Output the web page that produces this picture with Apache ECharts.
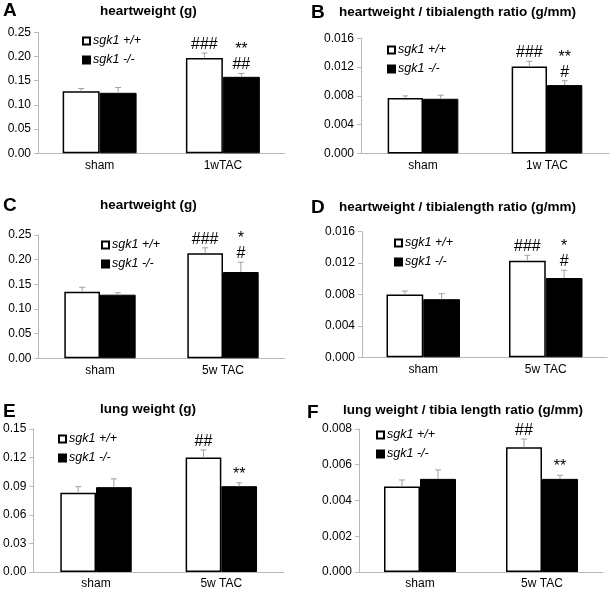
<!DOCTYPE html>
<html><head><meta charset="utf-8">
<script src="https://cdn.jsdelivr.net/npm/echarts@6/dist/echarts.min.js"></script>
<style>html,body{margin:0;padding:0;background:#fff}#c{width:610px;height:590px}</style>
</head><body><div id="c"></div>
<script>
// ---- data ----
const seriesNames = ['sgk1 +/+', 'sgk1 -/-'];
const catsA = ['sham', '1wTAC'];
const catsB = ['sham', '1w TAC'];
const catsC = ['sham', '5w TAC'];
const catsD = ['sham', '5w TAC'];
const catsE = ['sham', '5w TAC'];
const catsF = ['sham', '5w TAC'];

const wtA = [0.128, 0.197];   const wtErrA = [0.006, 0.010];
const koA = [0.125, 0.158];   const koErrA = [0.011, 0.007];
const wtAnnA = ['', '###'];   const koAnnA = ['', '**\n##'];

const wtB = [0.0077, 0.0121]; const wtErrB = [0.0003, 0.0007];
const koB = [0.0076, 0.0095]; const koErrB = [0.0005, 0.0006];
const wtAnnB = ['', '###'];   const koAnnB = ['', '**\n#'];

const wtC = [0.135, 0.213];   const wtErrC = [0.009, 0.011];
const koC = [0.129, 0.175];   const koErrC = [0.004, 0.020];
const wtAnnC = ['', '###'];   const koAnnC = ['', '*\n#'];

const wtD = [0.0080, 0.0123]; const wtErrD = [0.00045, 0.0007];
const koD = [0.0074, 0.0101]; const koErrD = [0.0007, 0.0010];
const wtAnnD = ['', '###'];   const koAnnD = ['', '*\n#'];

const wtE = [0.083, 0.120];   const wtErrE = [0.0065, 0.008];
const koE = [0.089, 0.090];   const koErrE = [0.0087, 0.0035];
const wtAnnE = ['', '##'];    const koAnnE = ['', '**'];

const wtF = [0.00478, 0.00698]; const wtErrF = [0.00037, 0.00046];
const koF = [0.00521, 0.00521]; const koErrF = [0.0005, 0.0002];
const wtAnnF = ['', '##'];      const koAnnF = ['', '**'];

const yMax = [0.25, 0.016, 0.25, 0.016, 0.15, 0.008];
const yInterval = [0.05, 0.004, 0.05, 0.004, 0.03, 0.002];
const yDecimals = [2, 3, 2, 3, 2, 3];

const letters = ['A', 'B', 'C', 'D', 'E', 'F'];
const titles = ['heartweight (g)', 'heartweight / tibialength ratio (g/mm)', 'heartweight (g)',
  'heartweight / tibialength ratio (g/mm)', 'lung weight (g)', 'lung weight / tibia length ratio (g/mm)'];

const panelsData = [
  {cats: catsA, wt: wtA, wtErr: wtErrA, ko: koA, koErr: koErrA, wtAnn: wtAnnA, koAnn: koAnnA},
  {cats: catsB, wt: wtB, wtErr: wtErrB, ko: koB, koErr: koErrB, wtAnn: wtAnnB, koAnn: koAnnB},
  {cats: catsC, wt: wtC, wtErr: wtErrC, ko: koC, koErr: koErrC, wtAnn: wtAnnC, koAnn: koAnnC},
  {cats: catsD, wt: wtD, wtErr: wtErrD, ko: koD, koErr: koErrD, wtAnn: wtAnnD, koAnn: koAnnD},
  {cats: catsE, wt: wtE, wtErr: wtErrE, ko: koE, koErr: koErrE, wtAnn: wtAnnE, koAnn: koAnnE},
  {cats: catsF, wt: wtF, wtErr: wtErrF, ko: koF, koErr: koErrF, wtAnn: wtAnnF, koAnn: koAnnF}
];

// ---- layout (positions/styles) ----
const layout = [
  {grid: {left: 38, top: 32.3, width: 246.5, height: 121}, gap: 0.40, legend: {left: 82, top: 34}, letter: {left: 3, top: 1}, title: {left: 100, top: 4}},
  {grid: {left: 361, top: 38.3, width: 248, height: 115.2}, gap: 0.43, legend: {left: 387, top: 43}, letter: {left: 311, top: 3}, title: {left: 339, top: 5}},
  {grid: {left: 38.5, top: 235, width: 246, height: 123.3}, gap: 0.42, legend: {left: 101, top: 238}, letter: {left: 3, top: 196}, title: {left: 100, top: 198}},
  {grid: {left: 362, top: 231.7, width: 245, height: 125.6}, gap: 0.40, legend: {left: 394, top: 236}, letter: {left: 311, top: 198}, title: {left: 339, top: 200}},
  {grid: {left: 32, top: 429, width: 252, height: 143.3}, gap: 0.43, legend: {left: 58, top: 432}, letter: {left: 3, top: 402}, title: {left: 100, top: 402}},
  {grid: {left: 359, top: 429, width: 244, height: 143.3}, gap: 0.41, legend: {left: 376, top: 428}, letter: {left: 307, top: 403}, title: {left: 343, top: 403}}
];

const FONT = 'Liberation Sans, Arial, Helvetica, sans-serif';
const axisGray = '#b8b8b8';

const option = {
  animation: false,
  backgroundColor: '#fff',
  textStyle: {fontFamily: FONT},
  title: [], grid: [], xAxis: [], yAxis: [], legend: [], series: []
};

panelsData.forEach((p, i) => {
  const L = layout[i];
  option.title.push({text: letters[i], left: L.letter.left, top: L.letter.top, padding: 0,
    textStyle: {fontFamily: FONT, fontSize: 19, fontWeight: 'bold', color: '#000'}});
  option.title.push({text: titles[i], left: L.title.left, top: L.title.top, padding: 0,
    textStyle: {fontFamily: FONT, fontSize: 13.5, fontWeight: 'bold', color: '#000'}});
  option.grid.push(Object.assign({containLabel: false}, L.grid));
  option.xAxis.push({type: 'category', gridIndex: i, data: p.cats,
    axisLine: {lineStyle: {color: axisGray, width: 1}}, axisTick: {show: false},
    axisLabel: {color: '#000', fontSize: 12, margin: 6, fontFamily: FONT}});
  option.yAxis.push({type: 'value', gridIndex: i, min: 0, max: yMax[i], interval: yInterval[i],
    axisLine: {show: true, lineStyle: {color: axisGray, width: 1}},
    axisTick: {show: true, length: 4, lineStyle: {color: axisGray}},
    splitLine: {show: false},
    axisLabel: {color: '#000', fontSize: 12, margin: 7, fontFamily: FONT,
      formatter: v => v.toFixed(yDecimals[i])}});
  option.legend.push({orient: 'vertical', left: L.legend.left, top: L.legend.top, padding: 0,
    itemWidth: 7, itemHeight: 7, itemGap: 5, icon: 'rect', selectedMode: false,
    data: seriesNames,
    textStyle: {fontStyle: 'italic', fontSize: 12.5, color: '#000', lineHeight: 14, fontFamily: FONT, padding: [0, 0, 0, -2]}});
  const gapStr = Math.round(L.gap * 100) + '%';
  option.series.push({type: 'bar', name: seriesNames[0], xAxisIndex: i, yAxisIndex: i, data: p.wt,
    barGap: '0%', barCategoryGap: gapStr, silent: true,
    itemStyle: {color: '#fff', borderColor: '#000', borderWidth: 1.5}});
  option.series.push({type: 'bar', name: seriesNames[1], xAxisIndex: i, yAxisIndex: i, data: p.ko,
    barGap: '0%', barCategoryGap: gapStr, silent: true,
    itemStyle: {color: '#000', borderColor: '#000', borderWidth: 1}});
  // error bars + significance marks
  const errData = [];
  const anns = [];
  p.cats.forEach((c, j) => {
    errData.push([j, 0, p.wt[j], p.wtErr[j]]); anns.push(p.wtAnn[j]);
    errData.push([j, 1, p.ko[j], p.koErr[j]]); anns.push(p.koAnn[j]);
  });
  option.series.push({type: 'custom', xAxisIndex: i, yAxisIndex: i, data: errData, silent: true, z: 5,
    encode: {x: 0, y: 2},
    renderItem: function (params, api) {
      const j = api.value(0), s = api.value(1), v = api.value(2), e = api.value(3);
      const base = api.coord([j, v]);
      const top = api.coord([j, v + e]);
      const bandW = api.size([1, 0])[0];
      const barW = bandW * (1 - L.gap) / 2;
      const cx = base[0] + (s === 0 ? -barW / 2 : barW / 2);
      const children = [
        {type: 'line', shape: {x1: cx, y1: base[1], x2: cx, y2: top[1]}, style: {stroke: '#a0a0a0', lineWidth: 1}},
        {type: 'line', shape: {x1: cx - 3, y1: top[1], x2: cx + 3, y2: top[1]}, style: {stroke: '#a0a0a0', lineWidth: 1}}
      ];
      const t = anns[params.dataIndex];
      if (t) {
        children.push({type: 'text', x: cx, y: top[1] - 1,
          style: {text: t, fill: '#000', font: '16px ' + FONT, align: 'center', verticalAlign: 'bottom', lineHeight: 15}});
      }
      return {type: 'group', children: children};
    }});
});

const chart = echarts.init(document.getElementById('c'), null, {renderer: 'canvas'});
chart.setOption(option);
</script></body></html>
